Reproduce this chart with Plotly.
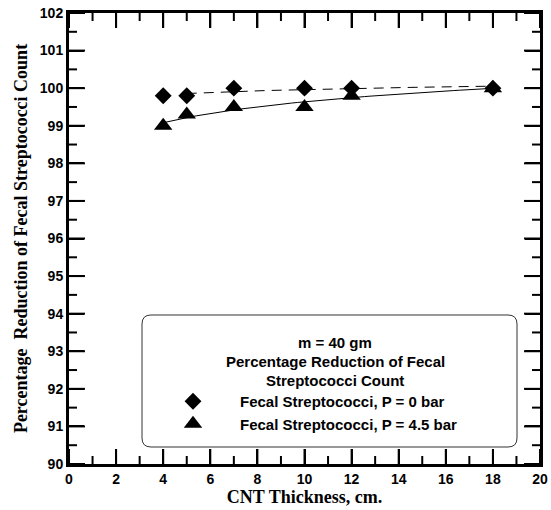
import numpy as np
import plotly.graph_objects as go

thickness = [4, 5, 7, 10, 12, 18]
p0_values = [99.8, 99.8, 100.0, 100.0, 100.0, 100.0]
p45_values = [99.0, 99.3, 99.5, 99.5, 99.8, 100.0]
series_names = ["Fecal Streptococci, P = 0 bar", "Fecal Streptococci, P = 4.5 bar"]
legend_title_lines = ["m = 40 gm", "Percentage Reduction of Fecal", "Streptococci Count"]
x_ticks = list(range(0, 21, 2))
x_minor = list(range(1, 20, 2))
y_ticks = list(range(90, 103))
y_minor = [v + 0.5 for v in range(90, 102)]


def log_fit(x, y, xs):
    b, a = np.polyfit(np.log(x), y, 1)
    return a + b * np.log(xs)


xs0 = np.linspace(5, 18, 60)
xs1 = np.linspace(4, 18, 60)

fig = go.Figure()
fig.add_trace(go.Scatter(x=xs0, y=log_fit(thickness, p0_values, xs0), mode="lines",
                         line=dict(color="black", width=1, dash="10px,7px"), showlegend=False,
                         hoverinfo="skip"))
fig.add_trace(go.Scatter(x=xs1, y=log_fit(thickness, p45_values, xs1), mode="lines",
                         line=dict(color="black", width=1), showlegend=False, hoverinfo="skip"))
fig.add_trace(go.Scatter(x=thickness, y=p0_values, mode="markers",
                         name="<b>" + series_names[0] + "</b>",
                         marker=dict(symbol="diamond", size=13, color="black")))
fig.add_trace(go.Scatter(x=thickness, y=p45_values, mode="markers",
                         name="<b>" + series_names[1] + "</b>",
                         marker=dict(symbol="triangle-up", size=16, color="black")))

W, H = 551, 510
ml, mr, mt, mb = 69, 11, 13, 46
pw, ph = W - ml - mr, H - mt - mb


def px2paper(x, y):
    return (x - ml) / pw, (H - mb - y) / ph


def P(x, y):
    u, v = px2paper(x, y)
    return f"{u:.5f},{v:.5f}"


# rounded legend box
x0, y0, x1, y1, r = 142, 315, 517, 447, 9
path = (f"M {P(x0 + r, y0)} L {P(x1 - r, y0)} Q {P(x1, y0)} {P(x1, y0 + r)} "
        f"L {P(x1, y1 - r)} Q {P(x1, y1)} {P(x1 - r, y1)} L {P(x0 + r, y1)} "
        f"Q {P(x0, y1)} {P(x0, y1 - r)} L {P(x0, y0 + r)} Q {P(x0, y0)} {P(x0 + r, y0)} Z")
fig.add_shape(type="path", path=path, xref="paper", yref="paper",
              line=dict(color="#333333", width=1), fillcolor="rgba(0,0,0,0)", layer="above")

# tick marks on all four sides, placed through the axis scales
tick_line = dict(color="black", width=2)
for vals, ln in ((x_ticks, 15), (x_minor, 8)):
    for v in vals:
        fig.add_shape(type="line", xref="x", yref="paper", x0=v, x1=v,
                      y0=0, y1=ln / ph, line=tick_line)
        fig.add_shape(type="line", xref="x", yref="paper", x0=v, x1=v,
                      y0=1, y1=1 - ln / ph, line=tick_line)
for vals, ln in ((y_ticks, 16), (y_minor, 8)):
    for v in vals:
        fig.add_shape(type="line", xref="paper", yref="y", y0=v, y1=v,
                      x0=0, x1=ln / pw, line=tick_line)
        fig.add_shape(type="line", xref="paper", yref="y", y0=v, y1=v,
                      x0=1, x1=1 - ln / pw, line=tick_line)

sans = dict(family="Liberation Sans, Arial", size=15, color="black")
for line, ypx in zip(legend_title_lines, [342, 361, 380]):
    u, v = px2paper(335, ypx)
    fig.add_annotation(x=u, y=v, xref="paper", yref="paper", text="<b>" + line + "</b>",
                       showarrow=False, xanchor="center", yanchor="middle", font=sans)

tick_font = dict(family="Liberation Sans, Arial", size=14, color="black")
title_font = dict(family="Liberation Serif, Times New Roman", size=18, color="black")

axis_common = dict(ticks="inside", ticklen=15, tickwidth=2, tickcolor="black",
                   showline=True, linecolor="black", linewidth=3, mirror="allticks",
                   showgrid=False, zeroline=False, automargin=False, tickfont=tick_font)

fig.update_xaxes(range=[0, 20], tickmode="array", tickvals=x_ticks,
                 ticktext=[f"<b>{v}</b>" for v in x_ticks],
                 title=dict(text="<b>CNT Thickness, cm.</b>", standoff=2, font=title_font),
                 **axis_common)
fig.update_yaxes(range=[90, 102], tickmode="array", tickvals=y_ticks,
                 ticktext=[f"<b>{v}</b>" for v in y_ticks],
                 title=dict(text="<b>Percentage  Reduction of Fecal Streptococci Count</b>",
                            standoff=8, font=title_font),
                 **axis_common)

lx, ly = px2paper(146, 385)
fig.update_layout(
    template="none",
    width=W, height=H,
    margin=dict(l=ml, r=mr, t=mt, b=mb),
    plot_bgcolor="white", paper_bgcolor="white",
    showlegend=True,
    legend=dict(x=lx, y=ly, xanchor="left", yanchor="top",
                bgcolor="rgba(0,0,0,0)", borderwidth=0,
                itemwidth=84, tracegroupgap=0, font=sans),
)

fig.write_html("out.html")
